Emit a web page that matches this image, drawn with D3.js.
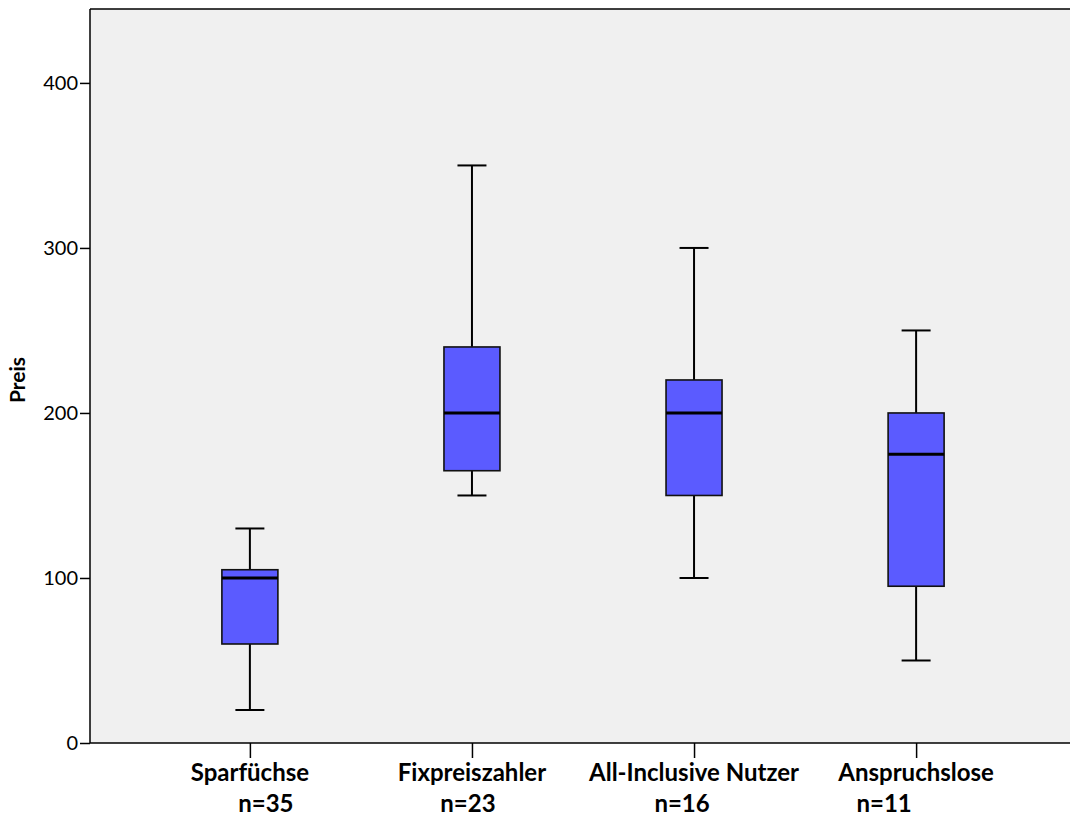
<!DOCTYPE html>
<html><head><meta charset="utf-8">
<script src="https://cdn.jsdelivr.net/npm/d3@7"></script>
<style>body{margin:0;background:#fff}</style>
</head><body>
<svg id="c" width="1070" height="816"></svg>
<script>
const categories = ["Sparfüchse", "Fixpreiszahler", "All-Inclusive Nutzer", "Anspruchslose"];
const counts = ["n=35", "n=23", "n=16", "n=11"];
const whiskerLow = [20, 150, 100, 50];
const q1 = [60, 165, 150, 95];
const median = [100, 200, 200, 175];
const q3 = [105, 240, 220, 200];
const whiskerHigh = [130, 350, 300, 250];
const yTicks = [0, 100, 200, 300, 400];
const yLabel = "Preis";

const countOffsets = [16, -4, -12, -32]; // layout only

(function () {
const svg = d3.select("#c");
const pLeft = 90, pRight = 1076, pTop = 9, pBottom = 743;
const x = d3.scalePoint().domain(categories).range([pLeft, pRight]).padding(0.72);
const y = d3.scaleLinear().domain([0, 444.8]).range([pBottom, pTop]);

svg.append("rect").attr("x", pLeft).attr("y", pTop).attr("width", pRight - pLeft).attr("height", pBottom - pTop)
  .attr("fill", "#f0f0f0");

const font = "Lato, 'Open Sans', sans-serif";
const boxW = 56, capW = 29;

const g = svg.append("g");
categories.forEach((c, i) => {
  const cx = x(c);
  g.append("line").attr("x1", cx).attr("x2", cx).attr("y1", y(whiskerHigh[i])).attr("y2", y(q3[i]))
    .attr("stroke", "#000").attr("stroke-width", 2);
  g.append("line").attr("x1", cx).attr("x2", cx).attr("y1", y(q1[i])).attr("y2", y(whiskerLow[i]))
    .attr("stroke", "#000").attr("stroke-width", 2);
  g.append("line").attr("x1", cx - capW/2).attr("x2", cx + capW/2).attr("y1", y(whiskerHigh[i])).attr("y2", y(whiskerHigh[i]))
    .attr("stroke", "#000").attr("stroke-width", 2);
  g.append("line").attr("x1", cx - capW/2).attr("x2", cx + capW/2).attr("y1", y(whiskerLow[i])).attr("y2", y(whiskerLow[i]))
    .attr("stroke", "#000").attr("stroke-width", 2);
  g.append("rect").attr("x", cx - boxW/2).attr("y", y(q3[i])).attr("width", boxW).attr("height", y(q1[i]) - y(q3[i]))
    .attr("fill", "#5b5bff").attr("stroke", "#111").attr("stroke-width", 1.6);
  g.append("line").attr("x1", cx - boxW/2).attr("x2", cx + boxW/2).attr("y1", y(median[i])).attr("y2", y(median[i]))
    .attr("stroke", "#000").attr("stroke-width", 3);
});

svg.append("line").attr("x1", pLeft).attr("x2", pRight).attr("y1", pTop).attr("y2", pTop).attr("stroke", "#000").attr("stroke-width", 1.5);

const yAxis = svg.append("g").attr("transform", `translate(${pLeft},0)`)
  .call(d3.axisLeft(y).tickValues(yTicks).tickSize(10).tickPadding(2).tickFormat(d3.format("d")));
yAxis.select(".domain").attr("stroke", "#000").attr("stroke-width", 1.5).attr("d", `M0,${pTop}V${pBottom}`);
yAxis.selectAll(".tick line").attr("stroke", "#000").attr("stroke-width", 1.5);
yAxis.selectAll(".tick text").attr("font-family", font).attr("font-size", 20).attr("fill", "#000");

const xAxis = svg.append("g").attr("transform", `translate(0,${pBottom})`)
  .call(d3.axisBottom(x).tickSize(15).tickFormat(""));
xAxis.select(".domain").attr("stroke", "#000").attr("stroke-width", 1.5).attr("d", `M${pLeft},0H${pRight}`);
xAxis.selectAll(".tick line").attr("stroke", "#000").attr("stroke-width", 1.5);

categories.forEach((c, i) => {
  svg.append("text").attr("x", x(c)).attr("y", 781).attr("text-anchor", "middle")
    .attr("font-family", font).attr("font-weight", "bold").attr("font-size", 24).text(c);
  svg.append("text").attr("x", x(c) + countOffsets[i]).attr("y", 812).attr("text-anchor", "middle")
    .attr("font-family", font).attr("font-weight", "bold").attr("font-size", 24).text(counts[i]);
});

svg.append("text").attr("transform", `translate(25,380) rotate(-90)`).attr("text-anchor", "middle")
  .attr("font-family", font).attr("font-weight", "bold").attr("font-size", 21).text(yLabel);
})();
</script>
</body></html>
